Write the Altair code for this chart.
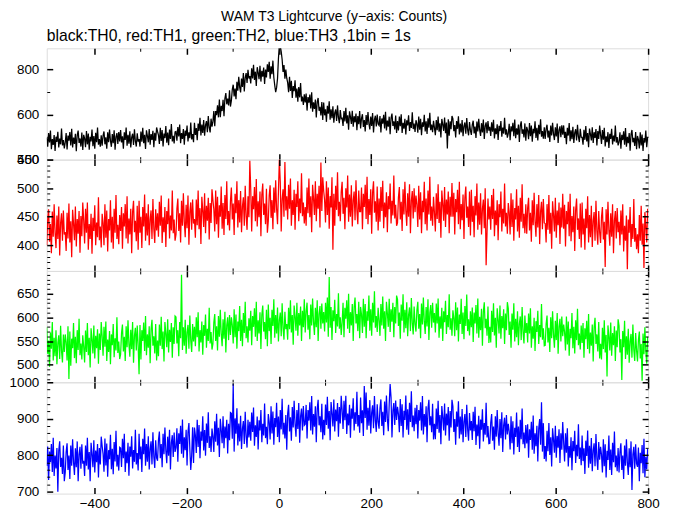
import altair as alt
import pandas as pd

FONT = "Liberation Sans"

# Counts per 2-s sample, t = -503, -501, ..., 799
th0 = [
    498, 457, 518, 476, 529, 446, 491, 465, 509, 439, 502, 479, 524, 454, 494, 468, 538, 463, 487, 450,
    476, 518, 445, 507, 484, 523, 463, 537, 454, 498, 470, 515, 437, 509, 529, 474, 494, 458, 520, 443,
    510, 494, 455, 527, 468, 516, 444, 501, 481, 534, 460, 505, 449, 519, 477, 543, 466, 491, 457, 508,
    462, 507, 525, 468, 499, 448, 521, 477, 534, 484, 457, 514, 473, 530, 444, 501, 518, 470, 523, 481,
    532, 476, 504, 449, 521, 487, 543, 462, 510, 471, 526, 454, 499, 515, 465, 535, 482, 458, 517, 480,
    491, 458, 525, 480, 541, 473, 510, 447, 530, 506, 477, 536, 466, 514, 488, 528, 455, 519, 484, 543,
    525, 509, 470, 542, 483, 531, 459, 516, 496, 549, 475, 520, 464, 534, 492, 558, 481, 506, 472, 523,
    525, 484, 545, 503, 556, 473, 518, 492, 536, 466, 529, 506, 551, 481, 521, 495, 565, 490, 514, 477,
    564, 510, 540, 486, 560, 528, 586, 507, 556, 519, 576, 506, 553, 571, 522, 594, 543, 521, 582, 547,
    569, 616, 549, 616, 598, 642, 588, 667, 589, 639, 616, 666, 593, 671, 696, 646, 671, 641, 708, 636,
    662, 711, 733, 681, 716, 669, 746, 706, 768, 722, 699, 760, 723, 785, 703, 764, 785, 741, 799, 761,
    772, 739, 806, 761, 822, 754, 791, 728, 811, 787, 758, 817, 747, 795, 769, 809, 736, 800, 765, 824,
    790, 835, 760, 815, 780, 840, 765, 730, 700, 720, 760, 850, 910, 905, 880, 845, 790, 820, 760, 800,
    762, 742, 700, 768, 705, 750, 674, 727, 704, 753, 675, 716, 657, 723, 677, 740, 659, 680, 643, 690,
    654, 694, 618, 678, 653, 689, 627, 699, 613, 655, 625, 667, 587, 657, 674, 617, 635, 596, 656, 576,
    654, 597, 624, 568, 639, 604, 659, 577, 624, 584, 637, 564, 608, 623, 572, 641, 587, 562, 620, 582,
    584, 550, 616, 570, 630, 561, 597, 533, 615, 590, 559, 617, 546, 593, 566, 605, 531, 594, 558, 616,
    539, 584, 602, 545, 576, 525, 598, 554, 611, 561, 534, 591, 550, 607, 521, 578, 595, 547, 600, 558,
    552, 594, 521, 583, 560, 599, 539, 613, 530, 574, 546, 591, 513, 585, 605, 550, 570, 534, 596, 519,
    571, 530, 591, 549, 602, 519, 564, 538, 582, 512, 575, 552, 597, 527, 567, 541, 611, 536, 560, 523,
    575, 559, 520, 592, 533, 581, 509, 566, 546, 599, 525, 570, 514, 584, 542, 608, 531, 556, 522, 573,
    542, 509, 576, 531, 592, 524, 561, 498, 581, 557, 528, 587, 517, 565, 450, 579, 506, 570, 535, 594,
    582, 526, 554, 499, 571, 537, 593, 512, 560, 521, 576, 504, 549, 565, 515, 585, 532, 508, 567, 530,
    510, 555, 573, 516, 547, 496, 569, 525, 582, 532, 505, 562, 521, 578, 492, 549, 566, 518, 571, 529,
    546, 505, 566, 524, 577, 494, 539, 513, 557, 487, 550, 527, 572, 502, 542, 516, 586, 511, 535, 498,
    517, 559, 486, 548, 525, 564, 504, 578, 495, 539, 511, 556, 478, 550, 570, 515, 535, 499, 561, 484,
    546, 530, 491, 563, 504, 552, 480, 537, 517, 570, 496, 541, 485, 555, 513, 579, 502, 527, 493, 544,
    492, 537, 555, 498, 529, 478, 551, 507, 564, 514, 487, 544, 503, 560, 474, 531, 548, 500, 553, 511,
    552, 496, 524, 469, 541, 507, 563, 482, 530, 491, 546, 474, 519, 535, 485, 555, 502, 478, 537, 500,
    499, 466, 533, 488, 549, 481, 518, 455, 538, 514, 485, 544, 474, 522, 496, 536, 463, 527, 492, 551,
    511, 470, 531, 489, 542, 459, 504, 478, 522, 452, 515, 492, 537, 467, 507, 481, 551, 476, 500, 463,
    479, 521, 448, 510, 487, 526, 466, 540, 457, 501, 473, 518, 440, 512, 532, 477, 497, 461, 523, 446,
    505, 489, 450, 522, 463, 511, 439, 496, 476, 529, 455, 500,
]

th1 = [
    400, 445, 463, 406, 437, 386, 459, 415, 472, 422, 395, 452, 411, 468, 382, 439, 456, 408, 461, 419,
    423, 390, 457, 412, 473, 405, 442, 379, 462, 438, 409, 468, 398, 446, 420, 460, 387, 451, 416, 475,
    444, 403, 464, 422, 475, 392, 437, 411, 455, 385, 448, 425, 470, 400, 440, 414, 484, 409, 433, 396,
    455, 439, 400, 472, 413, 461, 389, 446, 426, 479, 405, 450, 394, 464, 422, 488, 411, 436, 402, 453,
    425, 467, 394, 456, 433, 472, 412, 486, 403, 447, 419, 464, 386, 458, 478, 423, 443, 407, 469, 392,
    478, 422, 450, 395, 467, 433, 489, 408, 456, 417, 472, 400, 445, 461, 411, 481, 428, 404, 463, 426,
    456, 415, 476, 434, 487, 404, 449, 423, 467, 397, 460, 437, 482, 412, 452, 426, 496, 421, 445, 408,
    419, 464, 482, 425, 456, 405, 478, 434, 491, 441, 414, 471, 430, 487, 401, 458, 475, 427, 480, 438,
    446, 413, 480, 435, 496, 428, 465, 402, 485, 461, 432, 491, 421, 469, 443, 483, 410, 474, 439, 498,
    479, 463, 424, 496, 437, 485, 413, 470, 450, 503, 429, 474, 418, 488, 446, 512, 435, 460, 426, 477,
    501, 445, 473, 418, 490, 456, 512, 431, 479, 440, 495, 423, 468, 484, 434, 504, 451, 427, 486, 449,
    548, 497, 424, 486, 463, 502, 442, 516, 433, 477, 449, 494, 416, 488, 508, 453, 473, 437, 499, 422,
    442, 487, 505, 448, 479, 428, 501, 457, 514, 464, 437, 494, 550, 510, 424, 481, 498, 450, 546, 461,
    486, 445, 506, 464, 517, 434, 479, 453, 497, 427, 490, 467, 512, 442, 482, 456, 526, 451, 475, 438,
    467, 434, 501, 456, 517, 449, 486, 423, 506, 482, 453, 512, 442, 490, 464, 504, 431, 545, 460, 519,
    495, 479, 440, 512, 453, 501, 429, 486, 466, 519, 392, 490, 434, 504, 462, 528, 451, 476, 442, 493,
    511, 455, 483, 428, 500, 466, 522, 441, 489, 450, 505, 433, 478, 494, 444, 514, 461, 437, 496, 459,
    459, 501, 428, 490, 467, 506, 446, 520, 437, 481, 453, 498, 420, 492, 512, 457, 477, 441, 503, 426,
    482, 441, 502, 460, 513, 430, 475, 449, 493, 423, 486, 463, 508, 438, 478, 452, 522, 447, 471, 434,
    439, 484, 502, 445, 476, 425, 498, 454, 511, 461, 434, 491, 450, 507, 421, 478, 495, 447, 500, 458,
    487, 471, 432, 504, 445, 493, 421, 478, 458, 511, 437, 482, 426, 496, 454, 520, 443, 468, 434, 485,
    457, 424, 491, 446, 507, 439, 476, 413, 496, 472, 443, 502, 432, 480, 454, 494, 421, 485, 450, 509,
    450, 492, 419, 481, 458, 497, 437, 511, 428, 472, 444, 489, 411, 483, 503, 448, 468, 432, 494, 417,
    497, 441, 469, 414, 486, 452, 508, 427, 475, 436, 491, 419, 464, 480, 430, 500, 365, 423, 482, 445,
    468, 427, 488, 446, 499, 416, 461, 435, 479, 409, 472, 449, 494, 424, 464, 438, 508, 433, 457, 420,
    474, 458, 419, 491, 432, 480, 408, 465, 445, 498, 424, 469, 413, 483, 441, 507, 430, 455, 421, 472,
    420, 465, 483, 426, 457, 406, 479, 435, 492, 442, 415, 472, 431, 488, 402, 459, 476, 428, 481, 439,
    438, 405, 472, 427, 488, 420, 457, 394, 477, 453, 424, 483, 413, 461, 435, 475, 402, 466, 431, 490,
    429, 471, 398, 460, 437, 476, 416, 490, 407, 451, 423, 468, 390, 462, 482, 427, 447, 411, 473, 396,
    475, 419, 447, 392, 464, 430, 486, 405, 453, 414, 469, 397, 442, 458, 408, 478, 425, 401, 460, 423,
    404, 449, 467, 410, 441, 362, 463, 419, 476, 426, 399, 456, 415, 472, 386, 443, 460, 412, 465, 423,
    441, 400, 461, 419, 472, 389, 434, 408, 452, 358, 445, 422, 467, 397, 437, 411, 481, 406, 430, 393,
    419, 386, 453, 408, 469, 401, 438, 360, 458, 434, 405, 464,
]

th2 = [
    579, 523, 551, 496, 568, 534, 590, 509, 557, 518, 573, 501, 546, 562, 512, 582, 529, 505, 564, 527,
    564, 548, 509, 581, 470, 570, 498, 555, 535, 588, 514, 559, 503, 573, 531, 597, 520, 545, 511, 562,
    538, 505, 572, 527, 588, 520, 557, 494, 577, 553, 524, 583, 513, 561, 535, 575, 502, 566, 531, 590,
    560, 519, 580, 538, 591, 508, 553, 527, 571, 501, 564, 541, 586, 516, 556, 530, 600, 525, 549, 512,
    522, 567, 585, 528, 559, 508, 581, 537, 594, 544, 517, 574, 533, 590, 504, 561, 578, 530, 583, 541,
    480, 584, 511, 573, 550, 589, 529, 603, 520, 564, 536, 581, 503, 575, 595, 540, 560, 524, 586, 509,
    551, 518, 585, 540, 601, 533, 570, 507, 590, 566, 537, 596, 526, 574, 548, 588, 515, 579, 544, 603,
    601, 545, 573, 518, 590, 556, 690, 531, 579, 540, 595, 523, 568, 584, 534, 604, 551, 527, 586, 549,
    580, 539, 600, 558, 611, 528, 573, 547, 591, 521, 584, 561, 606, 536, 576, 550, 620, 545, 569, 532,
    544, 589, 607, 550, 581, 530, 603, 559, 616, 566, 539, 596, 555, 612, 526, 583, 600, 552, 605, 563,
    600, 584, 545, 617, 558, 606, 534, 591, 571, 624, 550, 595, 539, 609, 567, 633, 556, 581, 547, 598,
    572, 614, 541, 603, 580, 619, 559, 633, 550, 594, 566, 611, 533, 605, 625, 570, 590, 554, 616, 539,
    627, 571, 599, 544, 616, 582, 638, 557, 605, 566, 621, 549, 594, 610, 560, 630, 577, 553, 612, 575,
    586, 553, 620, 575, 636, 568, 605, 542, 625, 601, 572, 631, 561, 609, 583, 623, 550, 614, 579, 638,
    568, 613, 631, 574, 605, 554, 627, 583, 640, 590, 563, 620, 579, 636, 550, 607, 624, 576, 629, 587,
    611, 570, 631, 589, 642, 559, 685, 578, 622, 552, 615, 592, 637, 567, 607, 581, 651, 576, 600, 563,
    589, 631, 558, 620, 597, 636, 576, 650, 567, 611, 583, 628, 550, 622, 642, 587, 607, 571, 633, 556,
    622, 606, 567, 639, 580, 628, 556, 613, 593, 646, 572, 617, 561, 631, 589, 655, 578, 603, 569, 620,
    594, 561, 628, 583, 644, 576, 613, 550, 633, 609, 580, 639, 569, 617, 591, 631, 558, 622, 587, 646,
    638, 582, 610, 555, 627, 593, 649, 568, 616, 577, 632, 560, 605, 621, 571, 641, 588, 564, 623, 586,
    570, 615, 633, 576, 607, 556, 629, 585, 642, 592, 565, 622, 581, 638, 552, 609, 626, 578, 631, 589,
    609, 568, 629, 587, 640, 557, 602, 576, 620, 550, 613, 590, 635, 565, 605, 579, 649, 574, 598, 561,
    615, 599, 560, 632, 573, 621, 549, 606, 586, 639, 565, 610, 554, 624, 582, 648, 571, 596, 562, 613,
    579, 621, 548, 610, 587, 626, 566, 640, 557, 601, 573, 618, 540, 612, 632, 577, 597, 561, 623, 546,
    580, 547, 614, 569, 630, 562, 599, 536, 619, 595, 566, 625, 555, 603, 577, 617, 544, 608, 573, 632,
    619, 563, 591, 536, 608, 574, 630, 549, 597, 558, 613, 541, 586, 602, 552, 622, 569, 545, 604, 567,
    588, 547, 608, 566, 619, 536, 581, 555, 599, 529, 592, 569, 614, 544, 584, 558, 628, 553, 577, 540,
    541, 586, 604, 547, 578, 527, 600, 556, 613, 563, 536, 593, 552, 609, 523, 580, 597, 549, 602, 560,
    585, 569, 530, 602, 543, 591, 519, 576, 556, 609, 535, 580, 524, 594, 552, 618, 541, 566, 532, 583,
    546, 588, 515, 577, 554, 593, 533, 607, 524, 568, 540, 585, 507, 579, 599, 544, 564, 528, 590, 513,
    544, 511, 578, 533, 594, 526, 563, 475, 583, 559, 530, 589, 519, 567, 541, 581, 508, 572, 537, 596,
    582, 526, 554, 468, 571, 537, 593, 512, 560, 521, 576, 504, 549, 565, 515, 585, 532, 508, 567, 530,
    507, 552, 570, 513, 544, 466, 566, 522, 579, 529, 502, 559,
]

th3 = [
    771, 824, 732, 810, 781, 831, 754, 848, 743, 799, 764, 820, 700, 813, 838, 768, 793, 749, 827, 729,
    753, 809, 833, 760, 799, 735, 827, 771, 844, 781, 746, 819, 767, 838, 729, 802, 823, 763, 830, 777,
    785, 743, 827, 771, 848, 761, 809, 729, 834, 803, 767, 841, 753, 813, 781, 831, 739, 820, 775, 851,
    825, 804, 755, 846, 772, 832, 741, 814, 789, 856, 762, 818, 748, 836, 783, 867, 769, 801, 758, 822,
    820, 768, 845, 792, 859, 754, 810, 778, 834, 744, 824, 796, 852, 764, 814, 782, 870, 775, 806, 758,
    859, 789, 824, 754, 845, 803, 873, 771, 831, 782, 852, 761, 817, 838, 775, 863, 796, 765, 841, 793,
    785, 841, 865, 792, 831, 767, 859, 803, 876, 813, 778, 851, 799, 870, 761, 834, 855, 795, 862, 809,
    821, 874, 782, 860, 831, 881, 804, 898, 793, 849, 814, 870, 772, 863, 888, 818, 760, 799, 877, 779,
    876, 855, 806, 897, 823, 883, 792, 865, 840, 907, 813, 869, 799, 887, 834, 918, 820, 852, 809, 873,
    851, 809, 893, 837, 914, 827, 875, 795, 900, 869, 833, 907, 819, 879, 847, 897, 805, 886, 841, 917,
    915, 845, 995, 810, 901, 859, 929, 827, 887, 838, 908, 817, 873, 894, 831, 919, 852, 821, 897, 849,
    892, 840, 917, 864, 931, 826, 882, 850, 906, 816, 896, 868, 924, 836, 886, 854, 942, 847, 878, 830,
    913, 892, 843, 934, 860, 920, 829, 902, 877, 944, 850, 906, 836, 924, 871, 955, 857, 889, 846, 910,
    815, 914, 938, 865, 904, 840, 932, 876, 949, 886, 851, 924, 872, 943, 834, 907, 928, 868, 935, 882,
    885, 938, 846, 924, 895, 945, 868, 962, 857, 913, 878, 934, 836, 927, 952, 882, 907, 863, 941, 843,
    897, 855, 939, 883, 960, 873, 921, 841, 946, 915, 879, 953, 865, 925, 893, 943, 851, 932, 887, 963,
    924, 872, 949, 896, 963, 858, 914, 882, 938, 848, 928, 900, 956, 868, 918, 886, 974, 879, 910, 862,
    958, 888, 923, 853, 990, 902, 972, 870, 930, 881, 951, 860, 916, 937, 874, 962, 895, 864, 940, 892,
    873, 929, 953, 880, 919, 855, 947, 891, 964, 901, 866, 939, 995, 958, 849, 922, 943, 883, 950, 897,
    933, 912, 863, 954, 880, 940, 849, 922, 897, 964, 870, 926, 856, 944, 891, 975, 877, 909, 866, 930,
    885, 938, 846, 924, 895, 945, 868, 962, 857, 913, 878, 934, 836, 927, 952, 882, 907, 863, 941, 843,
    886, 844, 928, 872, 949, 862, 910, 830, 935, 904, 868, 942, 854, 914, 882, 932, 840, 921, 876, 952,
    934, 864, 899, 829, 920, 878, 948, 846, 906, 857, 927, 836, 892, 913, 850, 938, 871, 840, 916, 868,
    894, 842, 919, 866, 933, 828, 884, 852, 908, 818, 898, 870, 926, 838, 888, 856, 944, 849, 880, 832,
    833, 889, 913, 840, 879, 815, 907, 851, 924, 861, 826, 899, 847, 918, 809, 882, 903, 843, 910, 857,
    886, 865, 816, 907, 833, 893, 802, 875, 850, 917, 823, 879, 809, 897, 844, 928, 830, 862, 819, 883,
    832, 885, 793, 871, 842, 892, 815, 909, 804, 860, 825, 881, 783, 874, 899, 829, 945, 810, 888, 790,
    825, 783, 867, 811, 888, 801, 849, 769, 874, 843, 807, 881, 793, 853, 821, 871, 779, 860, 815, 891,
    835, 783, 860, 807, 874, 769, 825, 793, 849, 759, 839, 811, 867, 779, 829, 797, 885, 790, 821, 773,
    854, 784, 819, 749, 840, 798, 868, 766, 826, 777, 847, 756, 812, 833, 770, 858, 791, 760, 836, 788,
    823, 802, 753, 844, 770, 830, 739, 812, 787, 854, 760, 816, 746, 834, 781, 865, 767, 799, 756, 820,
    753, 809, 833, 760, 799, 735, 827, 771, 844, 781, 746, 819, 767, 838, 705, 802, 823, 763, 830, 777,
    768, 821, 729, 807, 778, 828, 751, 845, 740, 796, 761, 817,
]

T_START = -503
T_STEP = 2
X_DOMAIN = [-503, 800]
X_MAJOR = [-400, -200, 0, 200, 400, 600, 800]
X_MINOR = [-300, -100, 100, 300, 500, 700]

PANELS = [
    (th0, "#000000", [400, 895], [400, 600, 800], [500, 700]),
    (th1, "#ff0000", [355, 550], [400, 450, 500, 550],
     [360, 370, 380, 390, 410, 420, 430, 440, 460, 470, 480, 490, 510, 520, 530, 540]),
    (th2, "#00ff00", [463, 698], [500, 550, 600, 650],
     [470, 480, 490, 510, 520, 530, 540, 560, 570, 580, 590, 610, 620, 630, 640, 660, 670, 680, 690]),
    (th3, "#0000ff", [695, 1000], [700, 800, 900, 1000],
     [720, 740, 760, 780, 820, 840, 860, 880, 920, 940, 960, 980]),
]

TITLE = "WAM T3 Lightcurve (y\u2212axis: Counts)"
SUBTITLE = "black:TH0, red:TH1, green:TH2, blue:TH3 ,1bin = 1s"

W, H = 605, 112
MAJ, MIN = 6, 3


def ax(orient, vals, size, width, labels=False, pad=8):
    kw = dict(orient=orient, values=vals, tickSize=size, offset=-size,
              domain=False, grid=False, labels=labels, title=None,
              tickColor="black", tickWidth=width, zindex=1)
    if labels:
        kw.update(labelFontSize=13.5, labelFont=FONT, labelColor="black",
                  labelPadding=pad, labelFlush=False, labelOverlap=False,
                  format="d")
    return alt.Axis(**kw)


def panel(values, color, ydom, ymaj, ymin, bottom_labels, title=None):
    df = pd.DataFrame({
        "t": [T_START + T_STEP * i for i in range(len(values))],
        "c": values,
    })
    xs = alt.Scale(domain=X_DOMAIN, nice=False, zero=False)
    ys = alt.Scale(domain=ydom, nice=False, zero=False)
    base = alt.Chart(df)
    l1 = base.mark_line(color=color, strokeWidth=1.25, clip=True).encode(
        x=alt.X("t:Q", scale=xs, axis=ax("bottom", X_MAJOR, MAJ, 1.5, bottom_labels, 3)),
        y=alt.Y("c:Q", scale=ys, axis=ax("left", ymaj, MAJ, 1.5, True, 8)),
    )
    l2 = base.mark_line(strokeOpacity=0, clip=True).encode(
        x=alt.X("t:Q", scale=xs, axis=ax("bottom", X_MINOR, MIN, 1)),
        y=alt.Y("c:Q", scale=ys, axis=ax("left", ymin, MIN, 1)),
    )
    l3 = base.mark_line(strokeOpacity=0, clip=True).encode(
        x=alt.X("t:Q", scale=xs, axis=ax("top", X_MAJOR, MAJ, 1.5)),
        y=alt.Y("c:Q", scale=ys, axis=ax("right", ymaj, MAJ, 1.5)),
    )
    l4 = base.mark_line(strokeOpacity=0, clip=True).encode(
        x=alt.X("t:Q", scale=xs, axis=ax("top", X_MINOR, MIN, 1)),
        y=alt.Y("c:Q", scale=ys, axis=ax("right", ymin, MIN, 1)),
    )
    props = dict(width=W, height=H)
    if title:
        props["title"] = alt.TitleParams(text=title, anchor="start", frame="group",
                                         fontSize=15.8, font=FONT, fontWeight="normal",
                                         color="black", offset=3)
    return alt.layer(l1, l2, l3, l4).resolve_axis(
        x="independent", y="independent").properties(**props)


charts = []
for k, (vals, col, yd, ymj, ymn) in enumerate(PANELS):
    charts.append(panel(vals, col, yd, ymj, ymn, k == len(PANELS) - 1,
                        SUBTITLE if k == 0 else None))

chart = alt.vconcat(*charts, spacing=0, bounds="flush").properties(
    title=alt.TitleParams(text=TITLE, anchor="middle", fontSize=14, font=FONT,
                          fontWeight="normal", color="black", offset=3),
    padding={"left": 0, "top": 0, "right": 6, "bottom": 2},
).configure_view(stroke="#000000", strokeWidth=1.8).configure(background="white")

chart.save("out.html", embed_options={"renderer": "svg", "actions": False})
